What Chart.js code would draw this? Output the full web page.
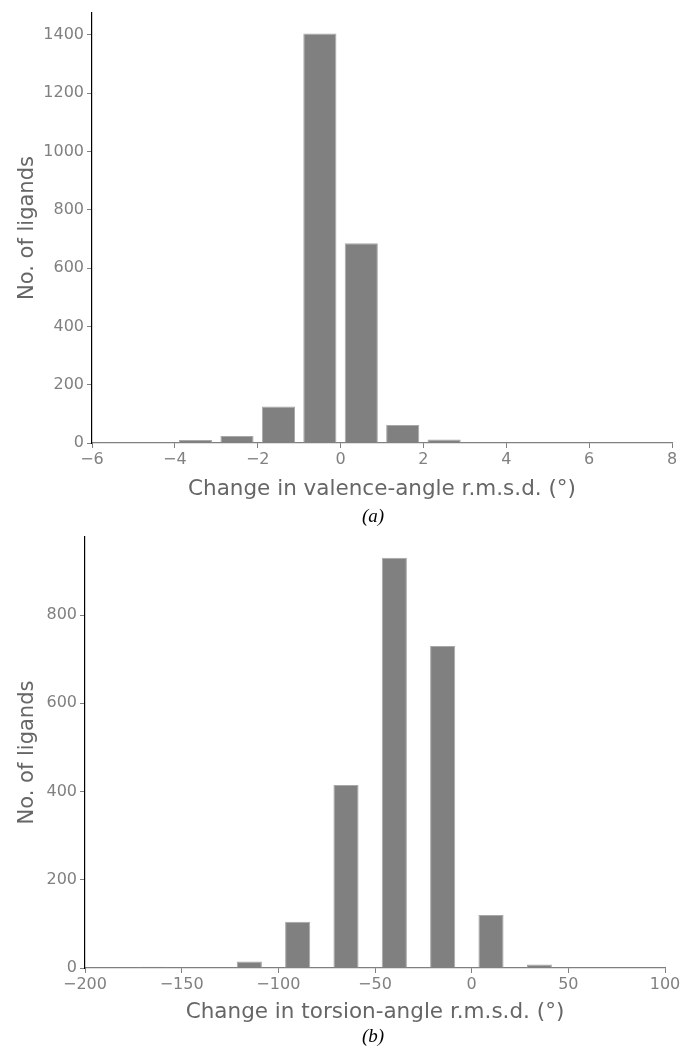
<!DOCTYPE html>
<html>
<head>
<meta charset="utf-8">
<script src="https://cdn.jsdelivr.net/npm/chart.js@4/dist/chart.umd.min.js"></script>
<style>
  html, body { margin: 0; padding: 0; background: #fff; }
  body { width: 684px; height: 1049px; position: relative; overflow: hidden; }
  .wrap { position: absolute; left: 0; width: 684px; }
  .cap { position: absolute; font-family: "Liberation Serif", "DejaVu Serif", serif; font-style: italic; font-size: 19px; color: #000; transform: translate(-50%, -50%); }
</style>
</head>
<body>
<div class="wrap" style="top:0;height:520px;"><canvas id="ca" width="684" height="520"></canvas></div>
<div class="wrap" style="top:520px;height:529px;"><canvas id="cb" width="684" height="529"></canvas></div>
<div class="cap" style="left:373px;top:516px;">(a)</div>
<div class="cap" style="left:373px;top:1036px;">(b)</div>
<script>
// Panel (a): change in valence-angle r.m.s.d. (bin centres, width 1)
const valenceBins   = [-4.5, -3.5, -2.5, -1.5, -0.5, 0.5, 1.5, 2.5, 3.5, 4.5];
const valenceCounts = [3, 10, 24, 125, 1405, 685, 62, 12, 0, 2];
const valenceTicks  = [-6, -4, -2, 0, 2, 4, 6, 8];
const valenceYTicks = [0, 200, 400, 600, 800, 1000, 1200, 1400];

// Panel (b): change in torsion-angle r.m.s.d. (bin centres, width 25)
const torsionBins   = [-165, -140, -115, -90, -65, -40, -15, 10, 35];
const torsionCounts = [3, 0, 15, 105, 415, 930, 730, 120, 8];
const torsionTicks  = [-200, -150, -100, -50, 0, 50, 100];
const torsionYTicks = [0, 200, 400, 600, 800];

const FONT = "'DejaVu Sans', sans-serif";
const TICK_COLOR = '#808080';
const TITLE_COLOR = '#666666';

function fmt(v) { return String(v).replace('-', '\u2212'); }

function makeChart(id, bins, counts, xTicks, yTicks, opts) {
  const data = bins.map((b, i) => ({ x: b, y: counts[i] }));
  return new Chart(document.getElementById(id), {
    type: 'bar',
    data: {
      datasets: [{
        data: data,
        backgroundColor: '#808080',
        borderColor: '#a8a8a8',
        borderWidth: { top: 1, left: 1, right: 1, bottom: 0 },
        borderSkipped: false,
        barPercentage: opts.barPct,
        categoryPercentage: 1.0
      }]
    },
    options: {
      responsive: false,
      animation: false,
      events: [],
      layout: { padding: { top: opts.padTop, right: opts.padRight, left: 0, bottom: 0 } },
      plugins: { legend: { display: false }, tooltip: { enabled: false } },
      scales: {
        x: {
          type: 'linear',
          offset: false,
          min: xTicks[0],
          max: xTicks[xTicks.length - 1],
          afterFit: s => { s.height = opts.xHeight; },
          afterBuildTicks: s => { s.ticks = xTicks.map(v => ({ value: v })); },
          ticks: {
            color: TICK_COLOR,
            font: { family: FONT, size: 16 },
            padding: 2,
            maxRotation: 0,
            autoSkip: false,
            callback: v => fmt(v)
          },
          grid: { display: true, offset: false, drawOnChartArea: false, drawTicks: true, tickLength: 5, color: TICK_COLOR, lineWidth: 1 },
          border: { display: true, color: TICK_COLOR, width: 1.2 },
          title: {
            display: true,
            text: opts.xTitle,
            color: TITLE_COLOR,
            font: { family: FONT, size: 21.5 },
            padding: { top: 0, bottom: opts.xTitlePad }
          }
        },
        y: {
          type: 'linear',
          min: 0,
          max: opts.yMax,
          afterFit: s => { s.width = opts.yWidth; },
          afterBuildTicks: s => { s.ticks = yTicks.map(v => ({ value: v })); },
          ticks: {
            color: TICK_COLOR,
            font: { family: FONT, size: 16 },
            padding: 3,
            autoSkip: false,
            callback: v => fmt(v)
          },
          grid: { display: true, drawOnChartArea: false, drawTicks: true, tickLength: 5, color: TICK_COLOR, lineWidth: 1 },
          border: { display: true, color: '#000000', width: 1.2 },
          title: {
            display: true,
            text: 'No. of ligands',
            color: TITLE_COLOR,
            font: { family: FONT, size: 21 },
            padding: { top: 15, bottom: 0 }
          }
        }
      }
    }
  });
}

makeChart('ca', valenceBins, valenceCounts, valenceTicks, valenceYTicks, {
  barPct: 0.8, padTop: 13, padRight: 12, xHeight: 77, yWidth: 92, yMax: 1475,
  xTitle: 'Change in valence-angle r.m.s.d. (\u00B0)', xTitlePad: 18
});
makeChart('cb', torsionBins, torsionCounts, torsionTicks, torsionYTicks, {
  barPct: 0.52, padTop: 17, padRight: 19, xHeight: 81, yWidth: 85, yMax: 977,
  xTitle: 'Change in torsion-angle r.m.s.d. (\u00B0)', xTitlePad: 24
});
</script>
</body>
</html>
